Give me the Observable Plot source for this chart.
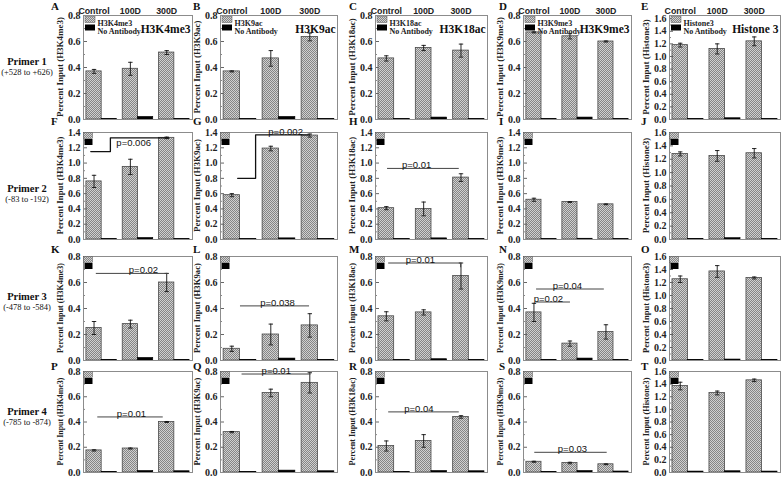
<!DOCTYPE html>
<html><head><meta charset="utf-8">
<script src="https://cdn.jsdelivr.net/npm/d3@7"></script>
<script src="https://cdn.jsdelivr.net/npm/@observablehq/plot@0.6"></script>
<style>
html,body{margin:0;padding:0;background:#fff;}
#chart{position:relative;width:784px;height:478px;overflow:hidden;background:#fff;}
#chart svg{position:absolute;}
</style></head><body>
<svg width="0" height="0" style="position:absolute;left:0;top:0">
  <defs>
    <pattern id="chk" width="2" height="2" patternUnits="userSpaceOnUse">
      <rect width="2" height="2" fill="#d0d0d0"></rect>
      <rect width="1" height="1" fill="#858585"></rect>
      <rect x="1" y="1" width="1" height="1" fill="#858585"></rect>
    </pattern>
  </defs>
</svg>
<div id="chart"></div>
<script>
// ---------- data ----------
const conditions = ["Control", "100D", "300D"];
const histoneMarks = ["H3K4me3", "H3K9ac", "H3K18ac", "H3K9me3", "Histone3"];
const panelTitles = ["H3K4me3", "H3K9ac", "H3K18ac", "H3K9me3", "Histone 3"];
const yLabels = ["Percent Input (H3K4me3)", "Percent Input (H3K9ac)", "Percent Input (H3K18ac)", "Percent Input (H3K9me3)", "Percent Input (Histone3)"];
const primerNames = ["Primer 1", "Primer 2", "Primer 3", "Primer 4"];
const primerRanges = ["(+528 to +626)", "(-83 to -192)", "(-478 to -584)", "(-785 to -874)"];
const panelLetters = [["A","B","C","D","E"],["F","G","H","I","J"],["K","L","M","N","O"],["P","Q","R","S","T"]];
const yMax = [[0.8,0.8,0.8,0.8,1.65],[1.4,1.4,1.4,1.4,1.6],[0.8,0.8,0.8,0.8,1.6],[0.8,0.8,0.8,0.8,1.6]];

// mean percent input per panel (rows: H3K4me3, H3K9ac, H3K18ac, H3K9me3, Histone3), values for Control/100D/300D
const primer1Mean = [[0.37,0.39,0.515],[0.37,0.47,0.635],[0.47,0.55,0.53],[0.67,0.64,0.60],[1.18,1.12,1.24]];
const primer1Err  = [[0.015,0.05,0.015],[0.004,0.06,0.03],[0.02,0.02,0.05],[0.004,0.02,0.004],[0.03,0.08,0.07]];
const primer1NoAb = [[0.004,0.02,0.004],[0.004,0.02,0.004],[0.004,0.015,0.004],[0.004,0.015,0.004],[0.008,0.02,0.008]];

const primer2Mean = [[0.76,0.95,1.33],[0.58,1.19,1.36],[0.41,0.40,0.81],[0.52,0.49,0.46],[1.28,1.25,1.29]];
const primer2Err  = [[0.08,0.10,0.01],[0.02,0.03,0.02],[0.02,0.09,0.05],[0.02,0.005,0.005],[0.03,0.08,0.07]];
const primer2NoAb = [[0.005,0.02,0.005],[0.005,0.015,0.005],[0.005,0.015,0.005],[0.005,0.01,0.005],[0.01,0.02,0.01]];

const primer3Mean = [[0.25,0.28,0.60],[0.09,0.20,0.27],[0.34,0.37,0.65],[0.37,0.13,0.22],[1.25,1.37,1.27]];
const primer3Err  = [[0.05,0.03,0.07],[0.02,0.08,0.09],[0.035,0.02,0.10],[0.07,0.02,0.055],[0.05,0.09,0.015]];
const primer3NoAb = [[0.005,0.02,0.005],[0.005,0.015,0.005],[0.004,0.01,0.004],[0.005,0.015,0.005],[0.01,0.015,0.01]];

const primer4Mean = [[0.175,0.19,0.40],[0.32,0.63,0.71],[0.21,0.25,0.44],[0.085,0.075,0.065],[1.37,1.26,1.46]];
const primer4Err  = [[0.005,0.004,0.004],[0.005,0.03,0.08],[0.04,0.05,0.01],[0.004,0.006,0.003],[0.06,0.03,0.02]];
const primer4NoAb = [[0.005,0.012,0.01],[0.005,0.015,0.01],[0.005,0.012,0.01],[0.005,0.012,0.008],[0.015,0.02,0.015]];

// significance annotations (x in condition-index units, y in percent input)
const sigBrackets = [
  {panel:"F", path:[[-0.3,1.15],[0.24,1.15],[0.24,1.33],[1.85,1.33]], label:"p=0.006", lx:0.88, ly:1.26},
  {panel:"G", path:[[-0.06,0.8],[0.4,0.8],[0.4,1.37],[1.76,1.37]], label:"p=0.002", lx:1.17},
  {panel:"H", path:[[-0.18,0.93],[1.72,0.93]], label:"p=0.01", lx:0.6},
  {panel:"K", path:[[-0.15,0.67],[1.8,0.67]], label:"p=0.02", lx:1.15},
  {panel:"L", path:[[0.01,0.42],[1.76,0.42]], label:"p=0.038", lx:0.96},
  {panel:"M", path:[[-0.15,0.75],[1.78,0.75],[1.78,0.72]], label:"p=0.01", lx:0.7},
  {panel:"N", path:[[-0.14,0.55],[1.72,0.55]], label:"p=0.04", lx:0.72},
  {panel:"N", path:[[-0.14,0.45],[0.78,0.45]], label:"p=0.02", lx:0.19},
  {panel:"P", path:[[-0.11,0.44],[1.67,0.44]], label:"p=0.01", lx:0.82},
  {panel:"Q", path:[[0.05,0.78],[1.8,0.78]], label:"p=0.01", lx:0.93},
  {panel:"R", path:[[-0.15,0.48],[1.72,0.48]], label:"p=0.04", lx:0.66},
  {panel:"S", path:[[-0.19,0.16],[1.8,0.16]], label:"p=0.03", lx:0.86}
];

// ---------- layout ----------
const colLeft = [83, 220, 375, 523, 669];
const colRight = [192, 337, 487, 631, 780];
const rowTop = [15, 132, 256, 371];
const rowBottom = [119, 239, 360, 472];
const letterX = [51, 193, 349, 499, 641];
const letterY = [7, 122, 250, 367];
const primerY = [63, 190, 298, 413];
const yLabelLength = [100, 98, 90, 88];

const means = [primer1Mean, primer2Mean, primer3Mean, primer4Mean];
const errs = [primer1Err, primer2Err, primer3Err, primer4Err];
const noAbs = [primer1NoAb, primer2NoAb, primer3NoAb, primer4NoAb];

const serif = "Liberation Serif, Times New Roman, serif";
const narrow = "Liberation Sans Narrow, Arial Narrow, Liberation Sans, sans-serif";
const capSymbol = {draw(ctx, size) { const r = Math.sqrt(size / Math.PI); ctx.moveTo(-r, 0); ctx.lineTo(r, 0); }};
const hw = 0.42;
const chart = document.getElementById("chart");

for (let r = 0; r < 4; r++) {
  for (let c = 0; c < 5; c++) {
    const W = colRight[c] - colLeft[c], H = rowBottom[r] - rowTop[r];
    const mL = 34, mR = 3, mT = r === 0 ? 15 : 4, mB = 4;
    const ymax = yMax[r][c];
    const rows = conditions.map((cond, i) => ({cond, i, mean: means[r][c][i], err: errs[r][c][i], noab: noAbs[r][c][i]}));
    const majors = d3.range(0, ymax + 1e-6, 0.2);
    const minors = d3.range(0.1, ymax + 1e-6, 0.2);
    const letter = panelLetters[r][c];
    const brs = sigBrackets.filter(b => b.panel === letter);
    const marks = [
      Plot.rectY(rows, {x1: d => d.i - hw, x2: d => d.i, y1: 0, y2: d => d.mean, fill: "url(#chk)", stroke: "#4a4a4a", strokeWidth: 0.8}),
      Plot.rectY(rows, {x1: d => d.i, x2: d => d.i + hw, y1: 0, y2: d => d.noab, fill: "#000", stroke: "#000", strokeWidth: 0.6}),
      Plot.ruleX(rows, {x: d => d.i - hw / 2, y1: d => d.mean - d.err, y2: d => d.mean + d.err, stroke: "#111", strokeWidth: 0.9}),
      Plot.dot(rows, {x: d => d.i - hw / 2, y: d => d.mean + d.err, symbol: capSymbol, r: 2.2, fill: "none", stroke: "#111", strokeWidth: 0.9}),
      Plot.dot(rows, {x: d => d.i - hw / 2, y: d => d.mean - d.err, symbol: capSymbol, r: 2.2, fill: "none", stroke: "#111", strokeWidth: 0.9}),
      Plot.tickY(majors, {y: d => d, insetRight: W - 4, stroke: "#666"}),
      Plot.tickY(minors, {y: d => d, insetRight: W - 2, stroke: "#888"}),
      Plot.axisY({ticks: majors, tickSize: 0, tickPadding: 3, tickFormat: d3.format(".1f"), label: null,
        fontFamily: serif, fontWeight: "bold", fontSize: 10, fill: "#222"}),
      Plot.frame({stroke: "#8c8c8c"})
    ];
    for (const b of brs) {
      const strong = b.panel === "F" || b.panel === "G";
      marks.push(Plot.line(b.path, {x: d => d[0], y: d => d[1], stroke: strong ? "#111" : "#444", strokeWidth: strong ? 1.3 : 1}));
      marks.push(Plot.text([b], {x: d => d.lx, y: d => d.ly ?? d.path[d.path.length > 2 && !strong ? 0 : d.path.length - 1][1],
        text: d => d.label, lineAnchor: b.ly != null ? "middle" : "bottom", fontFamily: narrow, fontSize: 9.5, fill: "#111"}));
    }
    if (r === 0) {
      marks.push(Plot.text(rows, {x: d => d.i - hw / 2, text: d => d.cond, frameAnchor: "top", dy: -8, fontFamily: narrow, fontWeight: "bold", fontSize: 8.8, fill: "#222"}));
      marks.push(Plot.text([panelTitles[c]], {frameAnchor: "top-right", dx: -2, dy: 9, textAnchor: "end", fontFamily: serif, fontWeight: "bold", fontSize: 11.5, fill: "#111"}));
      marks.push(Plot.text([histoneMarks[c]], {frameAnchor: "top-left", dx: 14, dy: 4.5, textAnchor: "start", fontFamily: serif, fontWeight: "bold", fontSize: 8, fill: "#222"}));
      marks.push(Plot.text(["No Antibody"], {frameAnchor: "top-left", dx: 14, dy: 12.5, textAnchor: "start", fontFamily: serif, fontWeight: "bold", fontSize: 8, fill: "#222"}));
    }
    const svg = Plot.plot({
      width: W + mL + mR, height: H + mT + mB,
      marginLeft: mL, marginRight: mR, marginTop: mT, marginBottom: mB,
      x: {type: "linear", domain: [-0.5, 2.5], axis: null},
      y: {domain: [0, ymax], axis: null},
      style: {background: "transparent", overflow: "visible"},
      marks
    });
    svg.style.position = "absolute";
    svg.style.left = (colLeft[c] - mL) + "px";
    svg.style.top = (rowTop[r] - mT) + "px";
    svg.style.background = "none";
    svg.style.maxWidth = "none";
    chart.appendChild(svg);
    // legend swatches
    const g = d3.select(svg).append("g");
    if (r === 0) {
      g.append("rect").attr("x", mL + 2).attr("y", mT + 1.5).attr("width", 10).attr("height", 6).attr("fill", "url(#chk)").attr("stroke", "#555").attr("stroke-width", 0.5);
      g.append("rect").attr("x", mL + 2).attr("y", mT + 9.5).attr("width", 10).attr("height", 6).attr("fill", "#000");
    } else {
      g.append("rect").attr("x", mL + 0.5).attr("y", mT + 0.5).attr("width", 9).attr("height", 6).attr("fill", "url(#chk)").attr("stroke", "#555").attr("stroke-width", 0.5);
      g.append("rect").attr("x", mL + 1.5).attr("y", mT + 7).attr("width", 8).attr("height", 6).attr("fill", "#000");
    }
    // rotated y-axis title, sized to fit along the panel like the reference
    const yl = d3.select(svg).append("text")
      .attr("transform", `translate(${mL - 22},${mT + H / 2}) rotate(-90)`)
      .attr("text-anchor", "middle").attr("dominant-baseline", "middle")
      .attr("font-family", serif).attr("font-weight", "bold").attr("font-size", 9).attr("fill", "#222")
      .text(yLabels[c]);
    const len = yl.node().getComputedTextLength();
    if (len > yLabelLength[r]) yl.attr("font-size", (9 * yLabelLength[r] / len).toFixed(2));
  }
}

// overlay: row labels and panel letters
const ov = d3.select(chart).append("svg").attr("width", 784).attr("height", 478).style("left", "0px").style("top", "0px").style("pointer-events", "none");
primerNames.forEach((name, r) => {
  ov.append("text").attr("x", 27).attr("y", primerY[r]).attr("text-anchor", "middle").attr("dominant-baseline", "middle")
    .attr("font-family", serif).attr("font-weight", "bold").attr("font-size", 10.5).attr("fill", "#111").text(name);
  ov.append("text").attr("x", 27).attr("y", primerY[r] + 10).attr("text-anchor", "middle").attr("dominant-baseline", "middle")
    .attr("font-family", serif).attr("font-size", 8.5).attr("fill", "#111").text(primerRanges[r]);
});
panelLetters.forEach((row, r) => row.forEach((L, c) => {
  ov.append("text").attr("x", letterX[c]).attr("y", letterY[r]).attr("dominant-baseline", "middle")
    .attr("font-family", serif).attr("font-weight", "bold").attr("font-size", 11).attr("fill", "#111").text(L);
}));
</script>
</body></html>
